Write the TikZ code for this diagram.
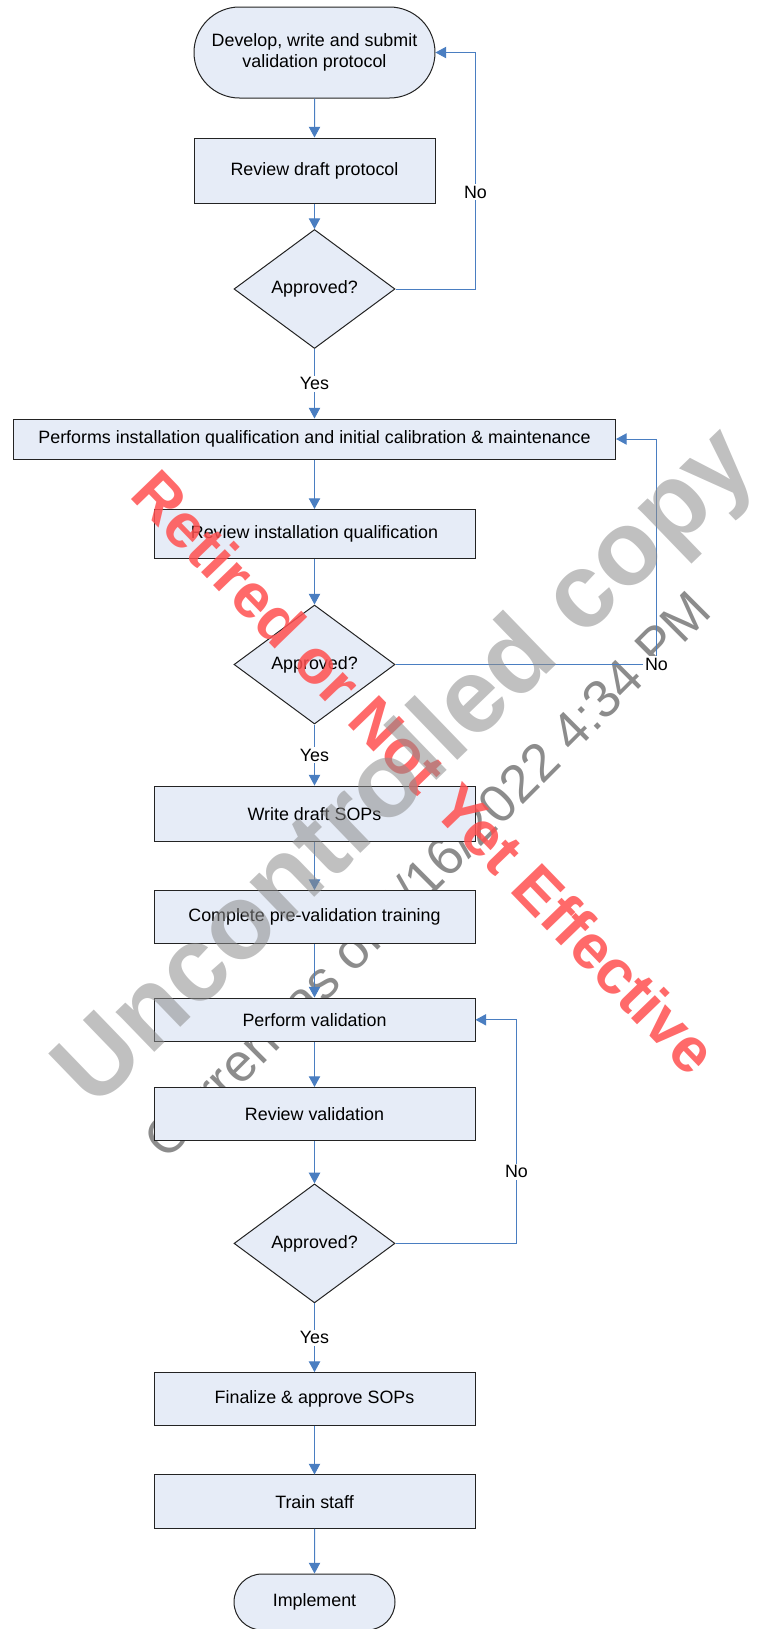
\documentclass[tikz,border=0pt]{standalone}
\usepackage{fontspec}
\setmainfont{Liberation Sans}
\usetikzlibrary{shapes.geometric,shapes.misc,arrows.meta}

\definecolor{boxfill}{RGB}{230,236,247}
\definecolor{boxline}{RGB}{35,35,35}
\definecolor{flowblue}{RGB}{74,126,193}
\definecolor{wmred}{RGB}{255,80,80}
\definecolor{wmgray}{RGB}{140,140,140}

\tikzset{
  txt/.style={font=\fontsize{13.4}{16}\selectfont},
  proc/.style={rectangle, draw=boxline, fill=boxfill, line width=0.75pt,
    inner sep=0pt, txt},
  term/.style={rounded rectangle, draw=boxline, fill=boxfill, line width=0.75pt,
    inner sep=0pt, align=center, txt},
  decision/.style={diamond, draw=boxline, fill=boxfill, line width=0.75pt,
    inner sep=0pt, minimum width=120.75pt, minimum height=89.25pt, txt},
  flow/.style={draw=flowblue, line width=0.75pt,
    -{Triangle[length=8pt,width=8.5pt]}},
  lbl/.style={fill=white, inner sep=1.5pt, txt}
}

\begin{document}
\begin{tikzpicture}[x=0.75pt,y=-0.75pt]
  \useasboundingbox (0,0) rectangle (757,1629);

  % stamp under the boxes
  \node[wmgray, rotate=45, font=\fontsize{40}{44}\selectfont] (stamp) at (427,874)
    {Current as of 4/16/2022 4:34 PM};

  % Protocol
  \node[term, minimum width=180.75pt, minimum height=68.25pt] (dev) at (314.5,52.5)
    {Develop, write and submit\\validation protocol};
  \node[proc, minimum width=180.75pt, minimum height=48.75pt] (rdp) at (314.5,170.5)
    {Review draft protocol};
  \node[decision] (ap1) at (314.5,289) {Approved?};

  % Installation qualification
  \node[proc, minimum width=451.5pt, minimum height=30pt] (iq) at (314.5,439)
    {Performs installation qualification and initial calibration \& maintenance};
  \node[proc, minimum width=240.75pt, minimum height=37.1pt] (riq) at (314.5,534.2)
    {Review installation qualification};
  \node[decision] (ap2) at (314.5,664.5) {Approved?};

  % Validation
  \node[proc, minimum width=240.75pt, minimum height=41.5pt] (sop) at (314.5,813.7)
    {Write draft SOPs};
  \node[proc, minimum width=240.75pt, minimum height=39.6pt] (trn) at (314.5,917)
    {Complete pre-validation training};
  \node[proc, minimum width=240.75pt, minimum height=32.7pt] (pval) at (314.5,1019.8)
    {Perform validation};
  \node[proc, minimum width=240.75pt, minimum height=40.1pt] (rval) at (314.5,1114.2)
    {Review validation};
  \node[decision] (ap3) at (314.5,1243.4) {Approved?};

  % Release
  \node[proc, minimum width=240.75pt, minimum height=39.3pt] (fin) at (314.5,1398.8)
    {Finalize \& approve SOPs};
  \node[proc, minimum width=240.75pt, minimum height=40.1pt] (staff) at (314.5,1501.7)
    {Train staff};
  \node[term, minimum width=120.75pt, minimum height=42pt] (impl) at (314.5,1602)
    {Implement};

  % Connectors
  \draw[flow] (dev) -- (rdp);
  \draw[flow] (rdp) -- (ap1);
  \draw[flow] (ap1) -- node[lbl] {Yes} (iq);
  \draw[flow] (ap1.east) -- ++(80,0) |- node[lbl, pos=0.205] {No} (dev.east);
  \draw[flow] (iq) -- (riq);
  \draw[flow] (riq) -- (ap2);
  \draw[flow] (ap2) -- node[lbl] {Yes} (sop);
  \draw[flow] (ap2.east) -- ++(261,0) node[lbl] {No} |- (iq.east);
  \draw[flow] (sop) -- (trn);
  \draw[flow] (trn) -- (pval);
  \draw[flow] (pval) -- (rval);
  \draw[flow] (rval) -- (ap3);
  \draw[flow] (ap3) -- node[lbl] {Yes} (fin);
  \draw[flow] (ap3.east) -- ++(121,0) |- node[lbl, pos=0.16] {No} (pval.east);
  \draw[flow] (fin) -- (staff);
  \draw[flow] (staff) -- (impl);

  % Watermarks over the chart
  \node[wmred, opacity=0.85, rotate=-46,
    font=\fontsize{47}{52}\selectfont\bfseries] (retired) at (425,772)
    {Retired or Not Yet Effective};
  \node[wmgray, opacity=0.55, rotate=44,
    font=\fontsize{79}{88}\selectfont\bfseries] (uncopy) at (408,770)
    {Uncontrolled copy};
\end{tikzpicture}
\end{document}
